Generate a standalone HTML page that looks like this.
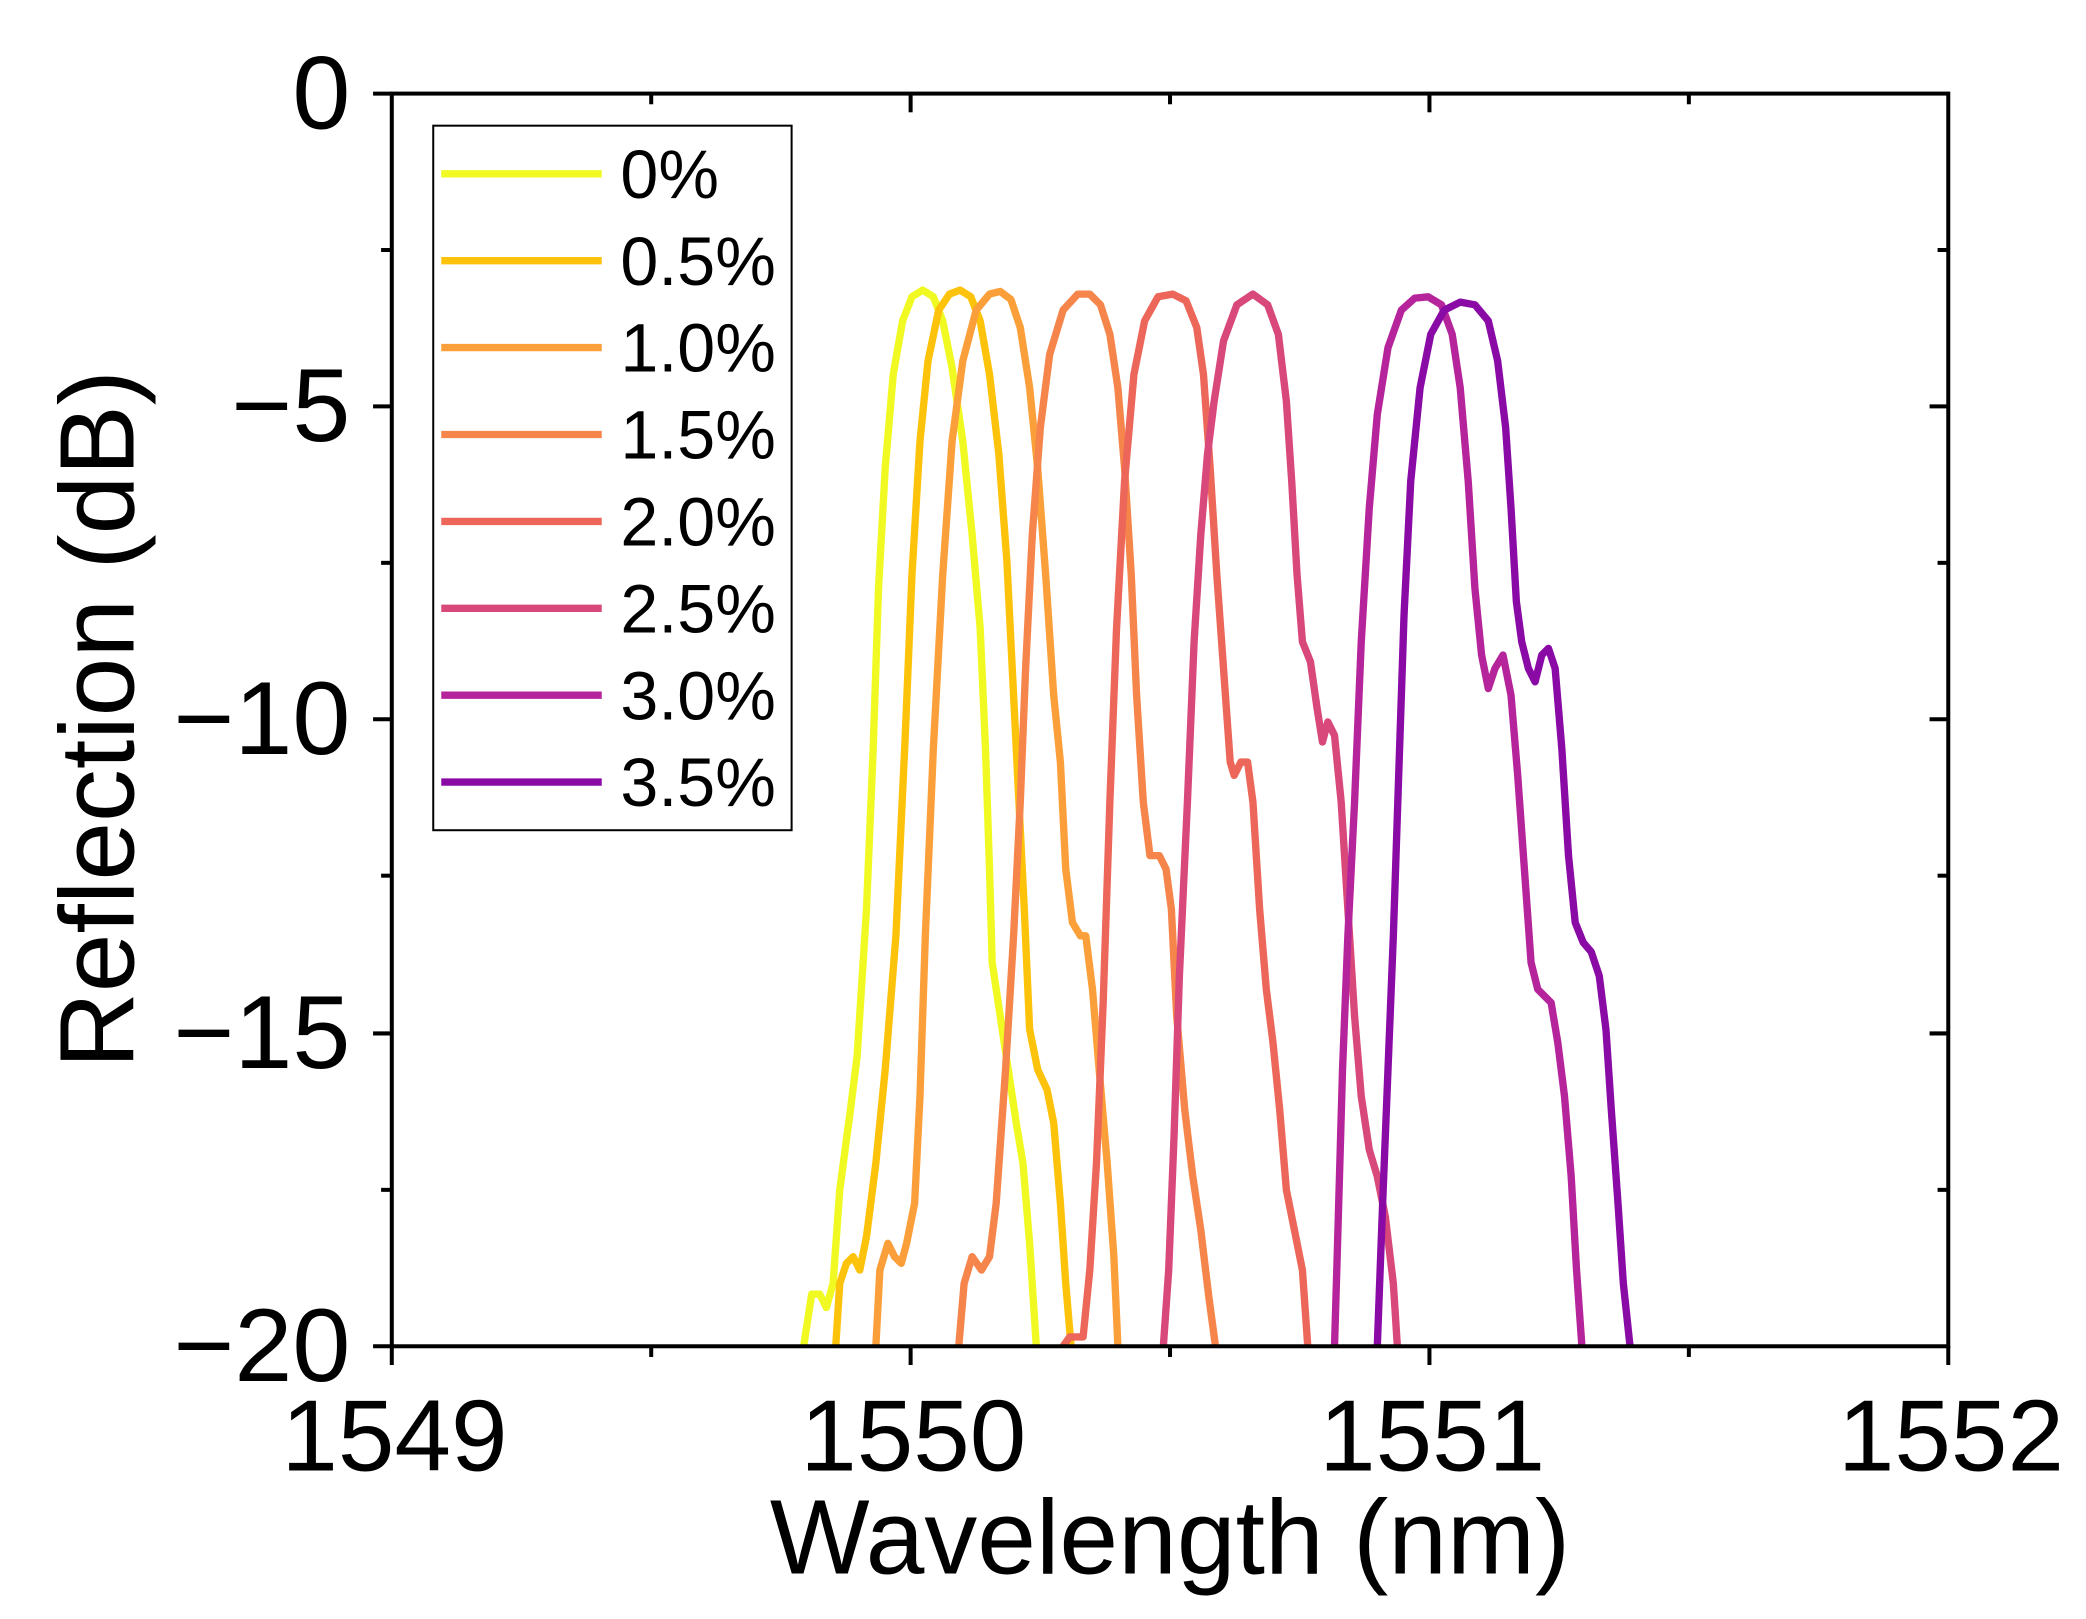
<!DOCTYPE html>
<html><head><style>html,body{margin:0;padding:0;background:#fff}svg{display:block}</style></head>
<body>
<svg width="2086" height="1619" viewBox="0 0 1560 1211" preserveAspectRatio="none" xmlns="http://www.w3.org/2000/svg" font-family="Liberation Sans, Arial, sans-serif">
<rect width="1560" height="1211" fill="#fff"/>
<g fill="none" stroke-width="5.5" stroke-linejoin="round">
<polyline stroke="#f0f921" points="601,1007 607,968 613,968 618,978 623,960 628,890 636,830 641,790 648,680 653,560 657,440 662,350 668,280 675,240 682,222 690,217 698,222 705,240 712,275 720,330 727,400 733,470 737,560 740,650 742,720 748,760 754,800 760,840 765,870 770,930 775,1007"/>
<polyline stroke="#fdc20a" points="625,1007 628,960 633,945 638,940 643,950 648,925 655,870 662,800 670,700 677,550 682,430 688,330 694,270 702,232 710,220 718,217 726,222 733,240 740,280 747,340 753,420 758,520 762,600 766,680 770,770 776,800 783,815 788,840 793,900 797,960 801,1007"/>
<polyline stroke="#fb9f3a" points="655,1007 658,950 664,930 669,940 674,945 678,930 684,900 688,820 692,700 698,560 705,430 712,330 720,270 730,232 740,220 748,218 756,224 763,245 770,290 776,350 782,430 788,520 793,570 797,650 802,690 808,700 812,700 817,740 822,800 828,870 833,940 836,1007"/>
<polyline stroke="#f5854a" points="717,1007 721,960 727,940 734,950 740,940 745,900 752,800 758,700 763,600 767,500 772,400 778,320 785,265 795,232 806,220 815,220 823,228 830,250 836,290 841,350 846,430 850,520 855,600 860,640 867,640 872,650 876,680 880,760 886,830 892,880 898,920 904,970 909,1007"/>
<polyline stroke="#ec6659" points="795,1007 800,1000 810,1000 815,950 820,870 825,750 830,600 835,470 841,360 848,280 856,240 866,222 877,220 887,225 895,245 900,280 905,350 910,430 915,500 920,570 923,580 928,570 933,570 937,600 942,680 947,740 952,780 957,830 962,890 968,920 974,950 978,1007"/>
<polyline stroke="#d8487a" points="870,1007 874,950 878,850 882,730 888,600 893,480 898,400 903,340 908,300 915,255 925,228 937,220 948,228 956,250 962,300 966,360 970,430 974,480 980,495 985,530 989,555 993,540 998,550 1003,600 1008,680 1013,760 1018,820 1024,860 1030,880 1036,910 1042,960 1045,1007"/>
<polyline stroke="#b5249b" points="998,1007 1000,940 1004,800 1008,700 1013,600 1018,480 1024,380 1030,310 1038,260 1048,232 1058,223 1068,222 1078,228 1086,250 1092,290 1098,360 1103,440 1108,490 1113,515 1118,500 1124,490 1130,520 1135,580 1140,650 1145,720 1150,740 1155,745 1160,750 1165,780 1170,820 1175,880 1179,950 1183,1007"/>
<polyline stroke="#8a0aa5" points="1030,1007 1034,900 1038,800 1042,700 1046,580 1050,460 1055,360 1062,290 1070,250 1080,232 1092,226 1103,228 1113,240 1120,270 1126,320 1130,380 1134,450 1138,480 1143,500 1148,510 1153,490 1158,485 1163,500 1168,560 1173,640 1178,690 1184,705 1190,712 1196,730 1201,770 1205,830 1210,900 1214,960 1219,1007"/>
</g>
<rect x="0" y="1009" width="1560" height="202" fill="#fff"/>
<rect x="293" y="70" width="1164" height="937" fill="none" stroke="#000" stroke-width="3"/>
<g stroke="#000" stroke-width="3">
<line x1="681" y1="1007" x2="681" y2="1021"/><line x1="1069" y1="1007" x2="1069" y2="1021"/><line x1="293" y1="1007" x2="293" y2="1021"/><line x1="1457" y1="1007" x2="1457" y2="1021"/>
<line x1="487" y1="1007" x2="487" y2="1015"/><line x1="875" y1="1007" x2="875" y2="1015"/><line x1="1263" y1="1007" x2="1263" y2="1015"/>
<line x1="681" y1="70" x2="681" y2="84"/><line x1="1069" y1="70" x2="1069" y2="84"/>
<line x1="487" y1="70" x2="487" y2="78"/><line x1="875" y1="70" x2="875" y2="78"/><line x1="1263" y1="70" x2="1263" y2="78"/>
<line x1="279" y1="70" x2="293" y2="70"/><line x1="279" y1="304" x2="293" y2="304"/><line x1="279" y1="538" x2="293" y2="538"/><line x1="279" y1="773" x2="293" y2="773"/><line x1="279" y1="1007" x2="293" y2="1007"/>
<line x1="285" y1="187" x2="293" y2="187"/><line x1="285" y1="421" x2="293" y2="421"/><line x1="285" y1="655" x2="293" y2="655"/><line x1="285" y1="890" x2="293" y2="890"/>
<line x1="1443" y1="304" x2="1457" y2="304"/><line x1="1443" y1="538" x2="1457" y2="538"/><line x1="1443" y1="773" x2="1457" y2="773"/>
<line x1="1449" y1="187" x2="1457" y2="187"/><line x1="1449" y1="421" x2="1457" y2="421"/><line x1="1449" y1="655" x2="1457" y2="655"/><line x1="1449" y1="890" x2="1457" y2="890"/>
</g>
<g font-size="78" text-anchor="end" fill="#000">
<text x="262" y="96">0</text><text x="262" y="330">−5</text><text x="262" y="564">−10</text><text x="262" y="799">−15</text><text x="262" y="1033">−20</text>
</g>
<g font-size="76" text-anchor="middle" fill="#000">
<text x="295" y="1100">1549</text><text x="683" y="1100">1550</text><text x="1071" y="1100">1551</text><text x="1459" y="1100">1552</text>
</g>
<g font-size="79" text-anchor="middle" fill="#000">
<text x="875" y="1177">Wavelength (nm)</text>
<text transform="translate(100,538) rotate(-90)">Reflection (dB)</text>
</g>
<rect x="324" y="94" width="268" height="527" fill="#fff" stroke="#000" stroke-width="1.5"/>
<g stroke-width="5.5">
<line x1="330" y1="130" x2="450" y2="130" stroke="#f0f921"/>
<line x1="330" y1="195" x2="450" y2="195" stroke="#fdc20a"/>
<line x1="330" y1="260" x2="450" y2="260" stroke="#fb9f3a"/>
<line x1="330" y1="325" x2="450" y2="325" stroke="#f5854a"/>
<line x1="330" y1="390" x2="450" y2="390" stroke="#ec6659"/>
<line x1="330" y1="455" x2="450" y2="455" stroke="#d8487a"/>
<line x1="330" y1="520" x2="450" y2="520" stroke="#b5249b"/>
<line x1="330" y1="585" x2="450" y2="585" stroke="#8a0aa5"/>
</g>
<g font-size="51" fill="#000">
<text x="464" y="148">0%</text><text x="464" y="213">0.5%</text><text x="464" y="278">1.0%</text><text x="464" y="343">1.5%</text>
<text x="464" y="408">2.0%</text><text x="464" y="473">2.5%</text><text x="464" y="538">3.0%</text><text x="464" y="603">3.5%</text>
</g>
</svg>
</body></html>
